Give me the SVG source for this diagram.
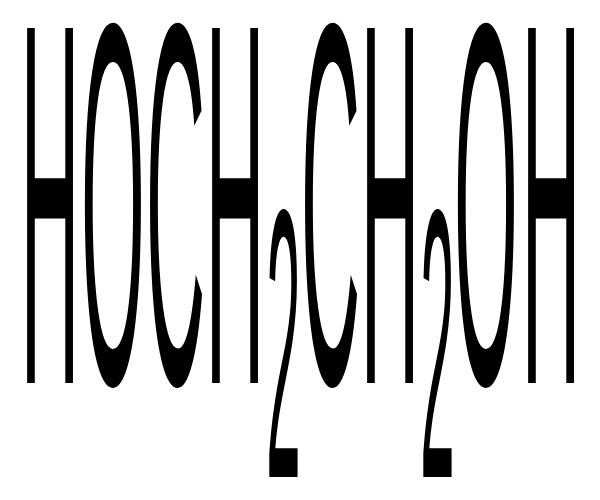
<svg xmlns="http://www.w3.org/2000/svg" width="600" height="500" viewBox="0 0 600 500">
<style>
.m{font-family:"Liberation Sans",Arial,sans-serif;font-size:516px;fill:#000}
.s{font-family:"Liberation Sans",Arial,sans-serif;font-size:384px;fill:#000}
</style>
<rect width="600" height="500" fill="#fff"/>
<g id="formula">
<text class="m" transform="translate(20.4,383) scale(0.159,1)">H</text>
<text class="m" transform="translate(81,383) scale(0.159,1)">O</text>
<text class="m" transform="translate(145.9,383) scale(0.159,1)">C</text>
<text class="m" transform="translate(205.4,383) scale(0.159,1)">H</text>
<text class="s" transform="translate(266.2,477) scale(0.1615,1)">2</text>
<text class="m" transform="translate(300.9,383) scale(0.159,1)">C</text>
<text class="m" transform="translate(360.4,383) scale(0.159,1)">H</text>
<text class="s" transform="translate(420.2,477) scale(0.1615,1)">2</text>
<text class="m" transform="translate(454,383) scale(0.159,1)">O</text>
<text class="m" transform="translate(521.4,383) scale(0.159,1)">H</text>
</g>
</svg>
